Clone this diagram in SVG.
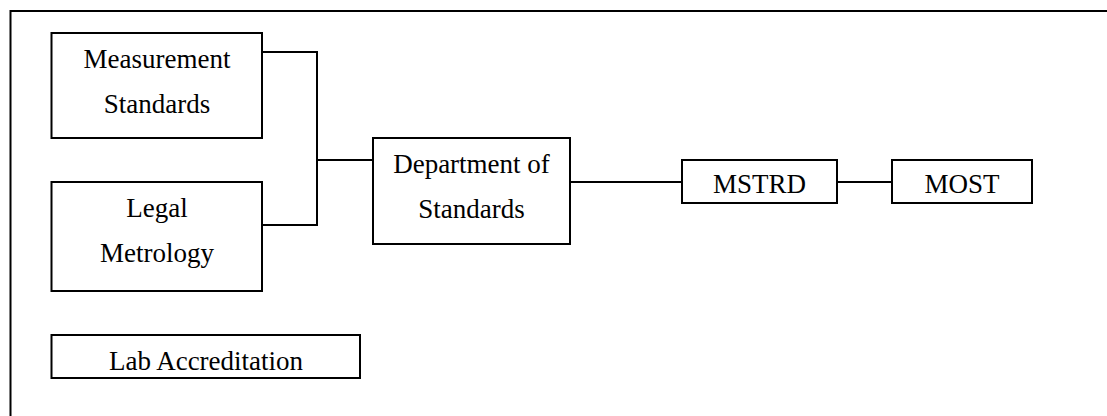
<svg xmlns="http://www.w3.org/2000/svg" width="1107" height="416" viewBox="0 0 1107 416">
  <style>
    .box { fill: #ffffff; stroke: #000000; stroke-width: 2; }
    .frame { fill: none; stroke: #000000; stroke-width: 2; }
    .link { fill: none; stroke: #000000; stroke-width: 2; }
    .label { font-family: "Liberation Serif", "Times New Roman", serif; font-size: 27px; fill: #000000; text-anchor: middle; }
  </style>
  <rect width="1107" height="416" fill="#ffffff"/>
  <!-- outer frame, open at right and bottom edges -->
  <path class="frame" d="M10.5 430 V11 H1120"/>

  <g id="connectors">
    <path class="link" d="M262 52 H317 V225 H262"/>
    <path class="link" d="M317 160 H373"/>
    <path class="link" d="M570 182 H682"/>
    <path class="link" d="M837 182 H892"/>
  </g>

  <g id="measurement-standards">
    <rect class="box" x="51.5" y="33" width="210.5" height="105"/>
    <text class="label" x="157" y="68">Measurement</text>
    <text class="label" x="157" y="113">Standards</text>
  </g>

  <g id="legal-metrology">
    <rect class="box" x="51.5" y="182" width="210.5" height="109"/>
    <text class="label" x="157" y="217">Legal</text>
    <text class="label" x="157" y="262">Metrology</text>
  </g>

  <g id="lab-accreditation">
    <rect class="box" x="51.5" y="335" width="308.5" height="43"/>
    <text class="label" x="206" y="370">Lab Accreditation</text>
  </g>

  <g id="department-of-standards">
    <rect class="box" x="373" y="138" width="197" height="106"/>
    <text class="label" x="471.5" y="173">Department of</text>
    <text class="label" x="471.5" y="218">Standards</text>
  </g>

  <g id="mstrd">
    <rect class="box" x="682" y="160" width="155" height="43"/>
    <text class="label" x="759.5" y="193">MSTRD</text>
  </g>

  <g id="most">
    <rect class="box" x="892" y="160" width="140" height="43"/>
    <text class="label" x="962" y="193">MOST</text>
  </g>
</svg>
